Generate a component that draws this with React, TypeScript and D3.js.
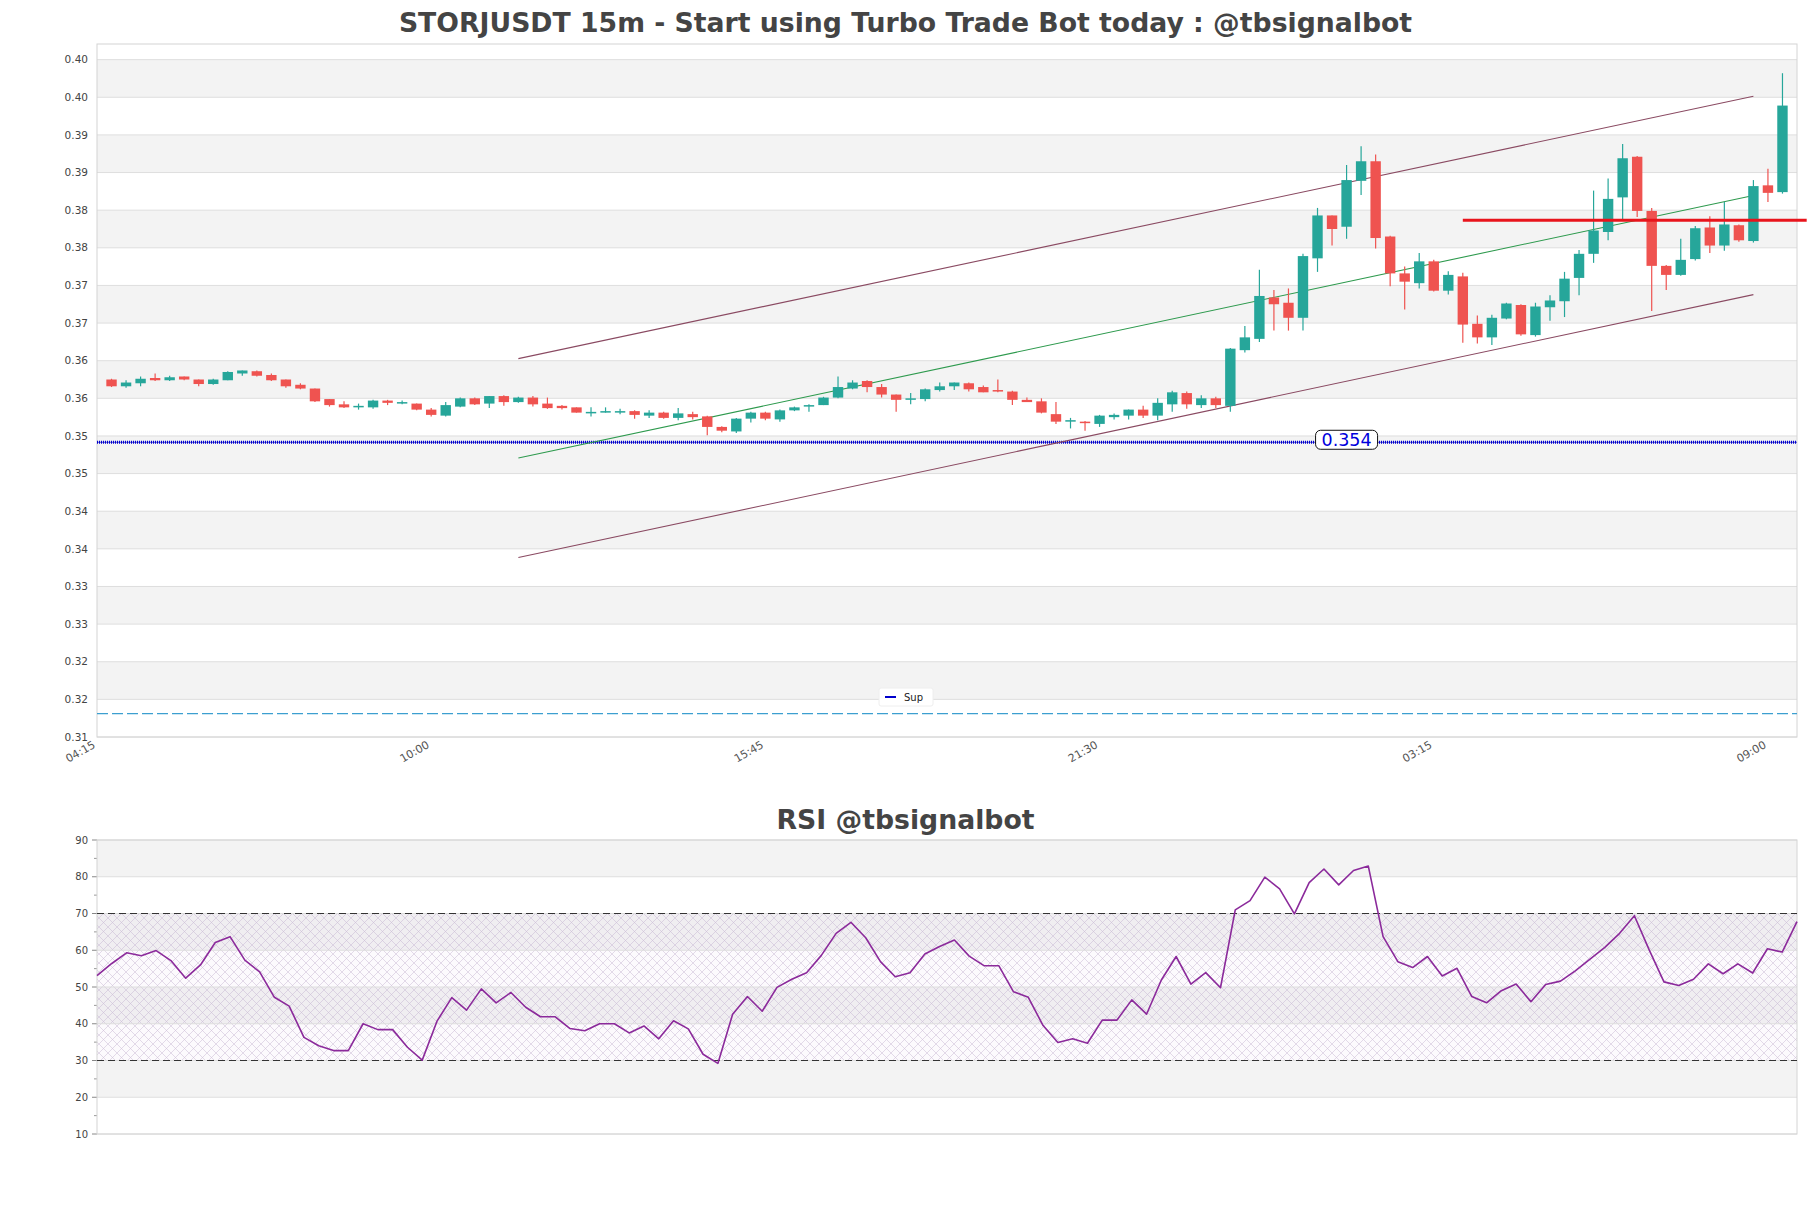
import React from 'react';
import * as d3 from 'd3';

const TITLE = 'STORJUSDT 15m - Start using Turbo Trade Bot today : @tbsignalbot';
const RSI_TITLE = 'RSI @tbsignalbot';
const FIRST_CANDLE = '2024-01-01T04:30:00';
const CANDLE_MINUTES = 15;
const X_DOMAIN = ['2024-01-01T04:15:00', '2024-01-02T09:30:00'];

const opens = [0.3575,0.3566,0.3570,0.3577,0.3574,0.3579,0.3575,0.3569,0.3574,0.3583,0.3586,0.3581,0.3575,0.3568,0.3563,0.3549,0.3542,0.3539,0.3538,0.3547,0.3544,0.3543,0.3535,0.3527,0.3539,0.3550,0.3543,0.3553,0.3545,0.3551,0.3543,0.3540,0.3538,0.3531,0.3531,0.3532,0.3533,0.3527,0.3531,0.3524,0.3529,0.3526,0.3512,0.3506,0.3523,0.3531,0.3522,0.3534,0.3539,0.3541,0.3551,0.3563,0.3573,0.3565,0.3555,0.3548,0.3549,0.3561,0.3566,0.3570,0.3565,0.3561,0.3559,0.3548,0.3546,0.3529,0.3519,0.3519,0.3516,0.3525,0.3527,0.3535,0.3527,0.3542,0.3557,0.3541,0.3550,0.3540,0.3614,0.3629,0.3684,0.3677,0.3657,0.3736,0.3793,0.3778,0.3839,0.3865,0.3765,0.3716,0.3703,0.3732,0.3693,0.3712,0.3649,0.3631,0.3656,0.3674,0.3634,0.3671,0.3679,0.3710,0.3742,0.3771,0.3817,0.3871,0.3799,0.3726,0.3714,0.3735,0.3777,0.3753,0.3780,0.3759,0.3833,0.3824];
const highs = [0.3576,0.3574,0.3579,0.3583,0.3580,0.3579,0.3575,0.3576,0.3586,0.3587,0.3587,0.3583,0.3575,0.3570,0.3563,0.3549,0.3546,0.3543,0.3548,0.3548,0.3547,0.3543,0.3537,0.3545,0.3551,0.3551,0.3553,0.3554,0.3552,0.3553,0.3551,0.3541,0.3538,0.3538,0.3538,0.3536,0.3534,0.3534,0.3532,0.3537,0.3532,0.3527,0.3513,0.3524,0.3532,0.3532,0.3535,0.3539,0.3542,0.3552,0.3579,0.3574,0.3574,0.3569,0.3555,0.3557,0.3563,0.3571,0.3571,0.3571,0.3567,0.3575,0.3560,0.3551,0.3550,0.3545,0.3524,0.3520,0.3528,0.3530,0.3535,0.3540,0.3550,0.3560,0.3559,0.3554,0.3552,0.3617,0.3646,0.3721,0.3694,0.3696,0.3742,0.3803,0.3793,0.3860,0.3885,0.3874,0.3766,0.3725,0.3743,0.3734,0.3719,0.3717,0.3660,0.3661,0.3677,0.3675,0.3677,0.3687,0.3718,0.3747,0.3826,0.3842,0.3888,0.3872,0.3803,0.3727,0.3762,0.3779,0.3792,0.3811,0.3781,0.3840,0.3855,0.3982];
const lows = [0.3565,0.3564,0.3566,0.3573,0.3573,0.3574,0.3566,0.3568,0.3574,0.3580,0.3579,0.3573,0.3564,0.3562,0.3545,0.3539,0.3537,0.3535,0.3536,0.3541,0.3542,0.3534,0.3526,0.3526,0.3538,0.3541,0.3537,0.3540,0.3544,0.3539,0.3536,0.3535,0.3531,0.3526,0.3531,0.3529,0.3523,0.3524,0.3523,0.3521,0.3522,0.3501,0.3505,0.3504,0.3518,0.3521,0.3519,0.3533,0.3532,0.3541,0.3550,0.3562,0.3558,0.3551,0.3532,0.3542,0.3546,0.3559,0.3561,0.3559,0.3558,0.3558,0.3541,0.3545,0.3530,0.3516,0.3510,0.3507,0.3512,0.3522,0.3522,0.3524,0.3521,0.3532,0.3536,0.3537,0.3537,0.3532,0.3611,0.3625,0.3640,0.3640,0.3640,0.3718,0.3753,0.3762,0.3820,0.3749,0.3699,0.3668,0.3696,0.3692,0.3688,0.3624,0.3623,0.3621,0.3655,0.3633,0.3632,0.3653,0.3658,0.3687,0.3730,0.3760,0.3787,0.3791,0.3666,0.3694,0.3713,0.3733,0.3743,0.3746,0.3758,0.3757,0.3811,0.3822];
const closes = [0.3566,0.3571,0.3576,0.3574,0.3578,0.3575,0.3569,0.3575,0.3585,0.3587,0.3580,0.3574,0.3566,0.3563,0.3546,0.3541,0.3538,0.3540,0.3547,0.3544,0.3545,0.3535,0.3528,0.3541,0.3550,0.3542,0.3553,0.3545,0.3551,0.3542,0.3537,0.3537,0.3531,0.3532,0.3533,0.3533,0.3528,0.3531,0.3524,0.3530,0.3525,0.3512,0.3507,0.3523,0.3531,0.3523,0.3534,0.3538,0.3541,0.3551,0.3565,0.3571,0.3565,0.3555,0.3548,0.3550,0.3562,0.3566,0.3571,0.3562,0.3558,0.3559,0.3548,0.3545,0.3531,0.3519,0.3521,0.3518,0.3527,0.3528,0.3535,0.3527,0.3544,0.3558,0.3542,0.3550,0.3541,0.3616,0.3631,0.3686,0.3675,0.3657,0.3739,0.3793,0.3775,0.3840,0.3865,0.3763,0.3716,0.3705,0.3732,0.3693,0.3714,0.3648,0.3631,0.3657,0.3676,0.3635,0.3672,0.3680,0.3709,0.3742,0.3773,0.3815,0.3869,0.3799,0.3726,0.3714,0.3734,0.3776,0.3753,0.3781,0.3760,0.3832,0.3823,0.3939];

const rsiValues = [53.1,56.4,59.3,58.5,59.9,57.2,52.4,56.0,62.1,63.7,57.3,54.1,47.2,44.8,36.3,34.0,32.7,32.7,40.0,38.4,38.4,33.6,30.1,40.7,47.1,43.7,49.5,45.7,48.5,44.5,41.9,41.9,38.7,38.1,40.0,40.0,37.5,39.4,35.9,40.8,38.6,31.7,29.2,42.6,47.4,43.4,49.9,52.1,53.9,58.6,64.6,67.6,63.4,56.9,52.8,53.9,59.0,61.0,62.8,58.4,55.8,55.8,48.7,47.2,39.5,34.9,35.9,34.7,41.0,41.0,46.5,42.6,51.9,58.3,50.8,53.9,49.8,71.0,73.5,79.9,76.7,69.9,78.4,82.1,77.8,81.7,82.9,63.7,56.9,55.3,58.3,53.0,55.1,47.4,45.7,49.0,50.8,46.0,50.7,51.6,54.4,57.6,60.8,64.6,69.4,60.1,51.4,50.4,52.1,56.3,53.6,56.3,53.8,60.4,59.5,67.8];

const priceTicks = [0.31,0.315,0.32,0.325,0.33,0.335,0.34,0.345,0.35,0.355,0.36,0.365,0.37,0.375,0.38,0.385,0.39,0.395,0.40];
const priceTickLabels = ['0.31','0.32','0.32','0.33','0.33','0.34','0.34','0.35','0.35','0.36','0.36','0.37','0.37','0.38','0.38','0.39','0.39','0.40','0.40'];
const priceDomain = [0.31, 0.40208];
const timeTicks = ['2024-01-01T04:15:00','2024-01-01T10:00:00','2024-01-01T15:45:00','2024-01-01T21:30:00','2024-01-02T03:15:00','2024-01-02T09:00:00'];
const timeTickLabels = ['04:15','10:00','15:45','21:30','03:15','09:00'];
const rsiTicks = [10,20,30,40,50,60,70,80,90];
const rsiMinorTicks = [15,25,35,45,55,65,75,85];
const rsiDomain = [10, 90];
const rsiBounds = [30, 70];

const channelTimes = ['2024-01-01T11:30:00','2024-01-02T08:45:00'];
const channelUpper = [0.36028, 0.39513];
const channelMid = [0.34706, 0.38196];
const channelLower = [0.33384, 0.36878];
const resistanceTimes = ['2024-01-02T03:45:00','2024-01-02T09:40:00'];
const resistanceLevel = 0.37866;
const supportLevel = 0.34916;
const supportLabel = '0.354';
const supportLabelTime = '2024-01-02T01:45:00';
const lowerLevel = 0.31311;
const legendLabel = 'Sup';

const W = 1811, H = 1208;
const M = { left: 97, right: 1797, top: 44, bottom: 737 };
const R = { top: 840, bottom: 1134 };
const FONT = 'DejaVu Sans, sans-serif';
const UP = '#26a69a', DOWN = '#ef5350';

export default function App() {
  const t0 = new Date(FIRST_CANDLE).getTime();
  const times = opens.map((_, i) => new Date(t0 + i * CANDLE_MINUTES * 60000));
  const x = d3.scaleTime().domain(X_DOMAIN.map(s => new Date(s))).range([M.left, M.right]);
  const y = d3.scaleLinear().domain(priceDomain).range([M.bottom, M.top]);
  const xr = d3.scaleTime().domain(d3.extent(times) as [Date, Date]).range([M.left, M.right]);
  const yr = d3.scaleLinear().domain(rsiDomain).range([R.bottom, R.top]);
  const bodyW = 10.4;

  const rsiLine = d3.line<number>().x((_, i) => xr(times[i])).y(d => yr(d));
  const seg = (ts: string[], vs: number[]) => d3.line<number>().x((_, i) => x(new Date(ts[i]))).y(d => y(d))(vs) as string;

  const bands: [number, number][] = [];
  for (let i = 1; i + 1 < priceTicks.length; i += 2) bands.push([priceTicks[i], priceTicks[i + 1]]);
  const rsiBands: [number, number][] = [[80, 90], [60, 70], [40, 50], [20, 30]];

  const supX = x(new Date(supportLabelTime));
  const supY = y(supportLevel);

  return (
    <svg width={W} height={H} style={{ position: 'absolute', left: 0, top: 0, background: '#fff' }} fontFamily={FONT}>
      <defs>
        <pattern id="hatch" width="9" height="9" patternUnits="userSpaceOnUse">
          <path d="M0,0 L9,9 M9,0 L0,9" stroke="#c0aecd" strokeWidth="0.55" fill="none" />
        </pattern>
        <clipPath id="mainClip"><rect x={M.left} y={M.top} width={M.right - M.left} height={M.bottom - M.top} /></clipPath>
      </defs>
      <rect width={W} height={H} fill="#fff" />
      <text x={W / 2} y={32} textAnchor="middle" fontSize={26.7} fontWeight="bold" fill="#444">{TITLE}</text>

      {/* main panel */}
      {bands.map(([a, b], i) => (
        <rect key={'b' + i} x={M.left} width={M.right - M.left} y={y(b)} height={y(a) - y(b)} fill="#f3f3f3" />
      ))}
      {priceTicks.map((t, i) => (
        <g key={'pt' + i}>
          <line x1={M.left} x2={M.right} y1={y(t)} y2={y(t)} stroke="#dedede" strokeWidth={1} />
          <text x={88} y={y(t)} dy="0.35em" textAnchor="end" fontSize={10.5} fill="#444">{priceTickLabels[i]}</text>
        </g>
      ))}
      <rect x={M.left} y={M.top} width={M.right - M.left} height={M.bottom - M.top} fill="none" stroke="#d4d4d4" />
      {timeTicks.map((t, i) => {
        const px = x(new Date(t));
        return (
          <text key={'tt' + i} transform={`translate(${px - 1},${M.bottom + 10}) rotate(-30)`} textAnchor="end" fontSize={11} fill="#555">{timeTickLabels[i]}</text>
        );
      })}

      <g clipPath="url(#mainClip)">
        <line x1={M.left} x2={M.right} y1={y(lowerLevel)} y2={y(lowerLevel)} stroke="#3c9fd0" strokeWidth={1.3} strokeDasharray="11,4" />
        <line x1={M.left} x2={M.right} y1={supY} y2={supY} stroke="#3030c0" strokeWidth={0.8} />
        <line x1={M.left} x2={M.right} y1={supY} y2={supY} stroke="#0000d0" strokeWidth={3} strokeDasharray="1,1" />
        <path d={seg(channelTimes, channelUpper)} stroke="#8a4a62" strokeWidth={1.1} fill="none" />
        <path d={seg(channelTimes, channelLower)} stroke="#8a4a62" strokeWidth={1.1} fill="none" />
        <path d={seg(channelTimes, channelMid)} stroke="#2e9a4e" strokeWidth={1.1} fill="none" />
        {opens.map((o, i) => {
          const c = closes[i];
          const col = c >= o ? UP : DOWN;
          const cx = x(times[i]);
          const top = y(Math.max(o, c));
          const h = Math.max(1.5, y(Math.min(o, c)) - top);
          return (
            <g key={'c' + i}>
              <line x1={cx} x2={cx} y1={y(highs[i])} y2={y(lows[i])} stroke={col} strokeWidth={1.2} />
              <rect x={cx - bodyW / 2} y={top} width={bodyW} height={h} fill={col} />
            </g>
          );
        })}
      </g>
      <path d={seg(resistanceTimes, [resistanceLevel, resistanceLevel])} stroke="#e8141c" strokeWidth={3} fill="none" />
      <rect x={supX - 31} y={supY - 12} width={62} height={19} rx={5} fill="#fff" stroke="#111" strokeWidth={1} />
      <text x={supX} y={supY - 2.5} dy="0.36em" textAnchor="middle" fontSize={17.5} fill="#0000dd">{supportLabel}</text>
      <rect x={879} y={688} width={54} height={18} rx={2} fill="#fff" stroke="#eeeeee" />
      <line x1={885} x2={896} y1={697} y2={697} stroke="#0000cc" strokeWidth={2} />
      <text x={904} y={697} dy="0.35em" fontSize={10} fill="#222">{legendLabel}</text>

      {/* RSI panel */}
      <text x={W / 2} y={829} textAnchor="middle" fontSize={26.7} fontWeight="bold" fill="#444">{RSI_TITLE}</text>
      {rsiBands.map(([a, b], i) => (
        <rect key={'rb' + i} x={M.left} width={M.right - M.left} y={yr(b)} height={yr(a) - yr(b)} fill="#f3f3f3" />
      ))}
      <rect x={M.left} width={M.right - M.left} y={yr(rsiBounds[1])} height={yr(rsiBounds[0]) - yr(rsiBounds[1])} fill="#b070c0" fillOpacity={0.035} />
      <rect x={M.left} width={M.right - M.left} y={yr(rsiBounds[1])} height={yr(rsiBounds[0]) - yr(rsiBounds[1])} fill="url(#hatch)" opacity={0.8} />
      {rsiTicks.map((t, i) => (
        <g key={'rt' + i}>
          <line x1={M.left} x2={M.right} y1={yr(t)} y2={yr(t)} stroke="#dedede" />
          <line x1={92} x2={M.left} y1={yr(t)} y2={yr(t)} stroke="#888" />
          <text x={88} y={yr(t)} dy="0.35em" textAnchor="end" fontSize={10} fill="#444">{t}</text>
        </g>
      ))}
      {rsiMinorTicks.map((t, i) => (
        <line key={'rm' + i} x1={94} x2={M.left} y1={yr(t)} y2={yr(t)} stroke="#999" />
      ))}
      <rect x={M.left} y={R.top} width={M.right - M.left} height={R.bottom - R.top} fill="none" stroke="#d4d4d4" />
      {rsiBounds.map((b, i) => (
        <line key={'rbd' + i} x1={M.left} x2={M.right} y1={yr(b)} y2={yr(b)} stroke="#333" strokeWidth={1.1} strokeDasharray="7,4" />
      ))}
      <path d={rsiLine(rsiValues) as string} stroke="#8b2a9b" strokeWidth={1.6} fill="none" strokeLinejoin="round" />
    </svg>
  );
}
